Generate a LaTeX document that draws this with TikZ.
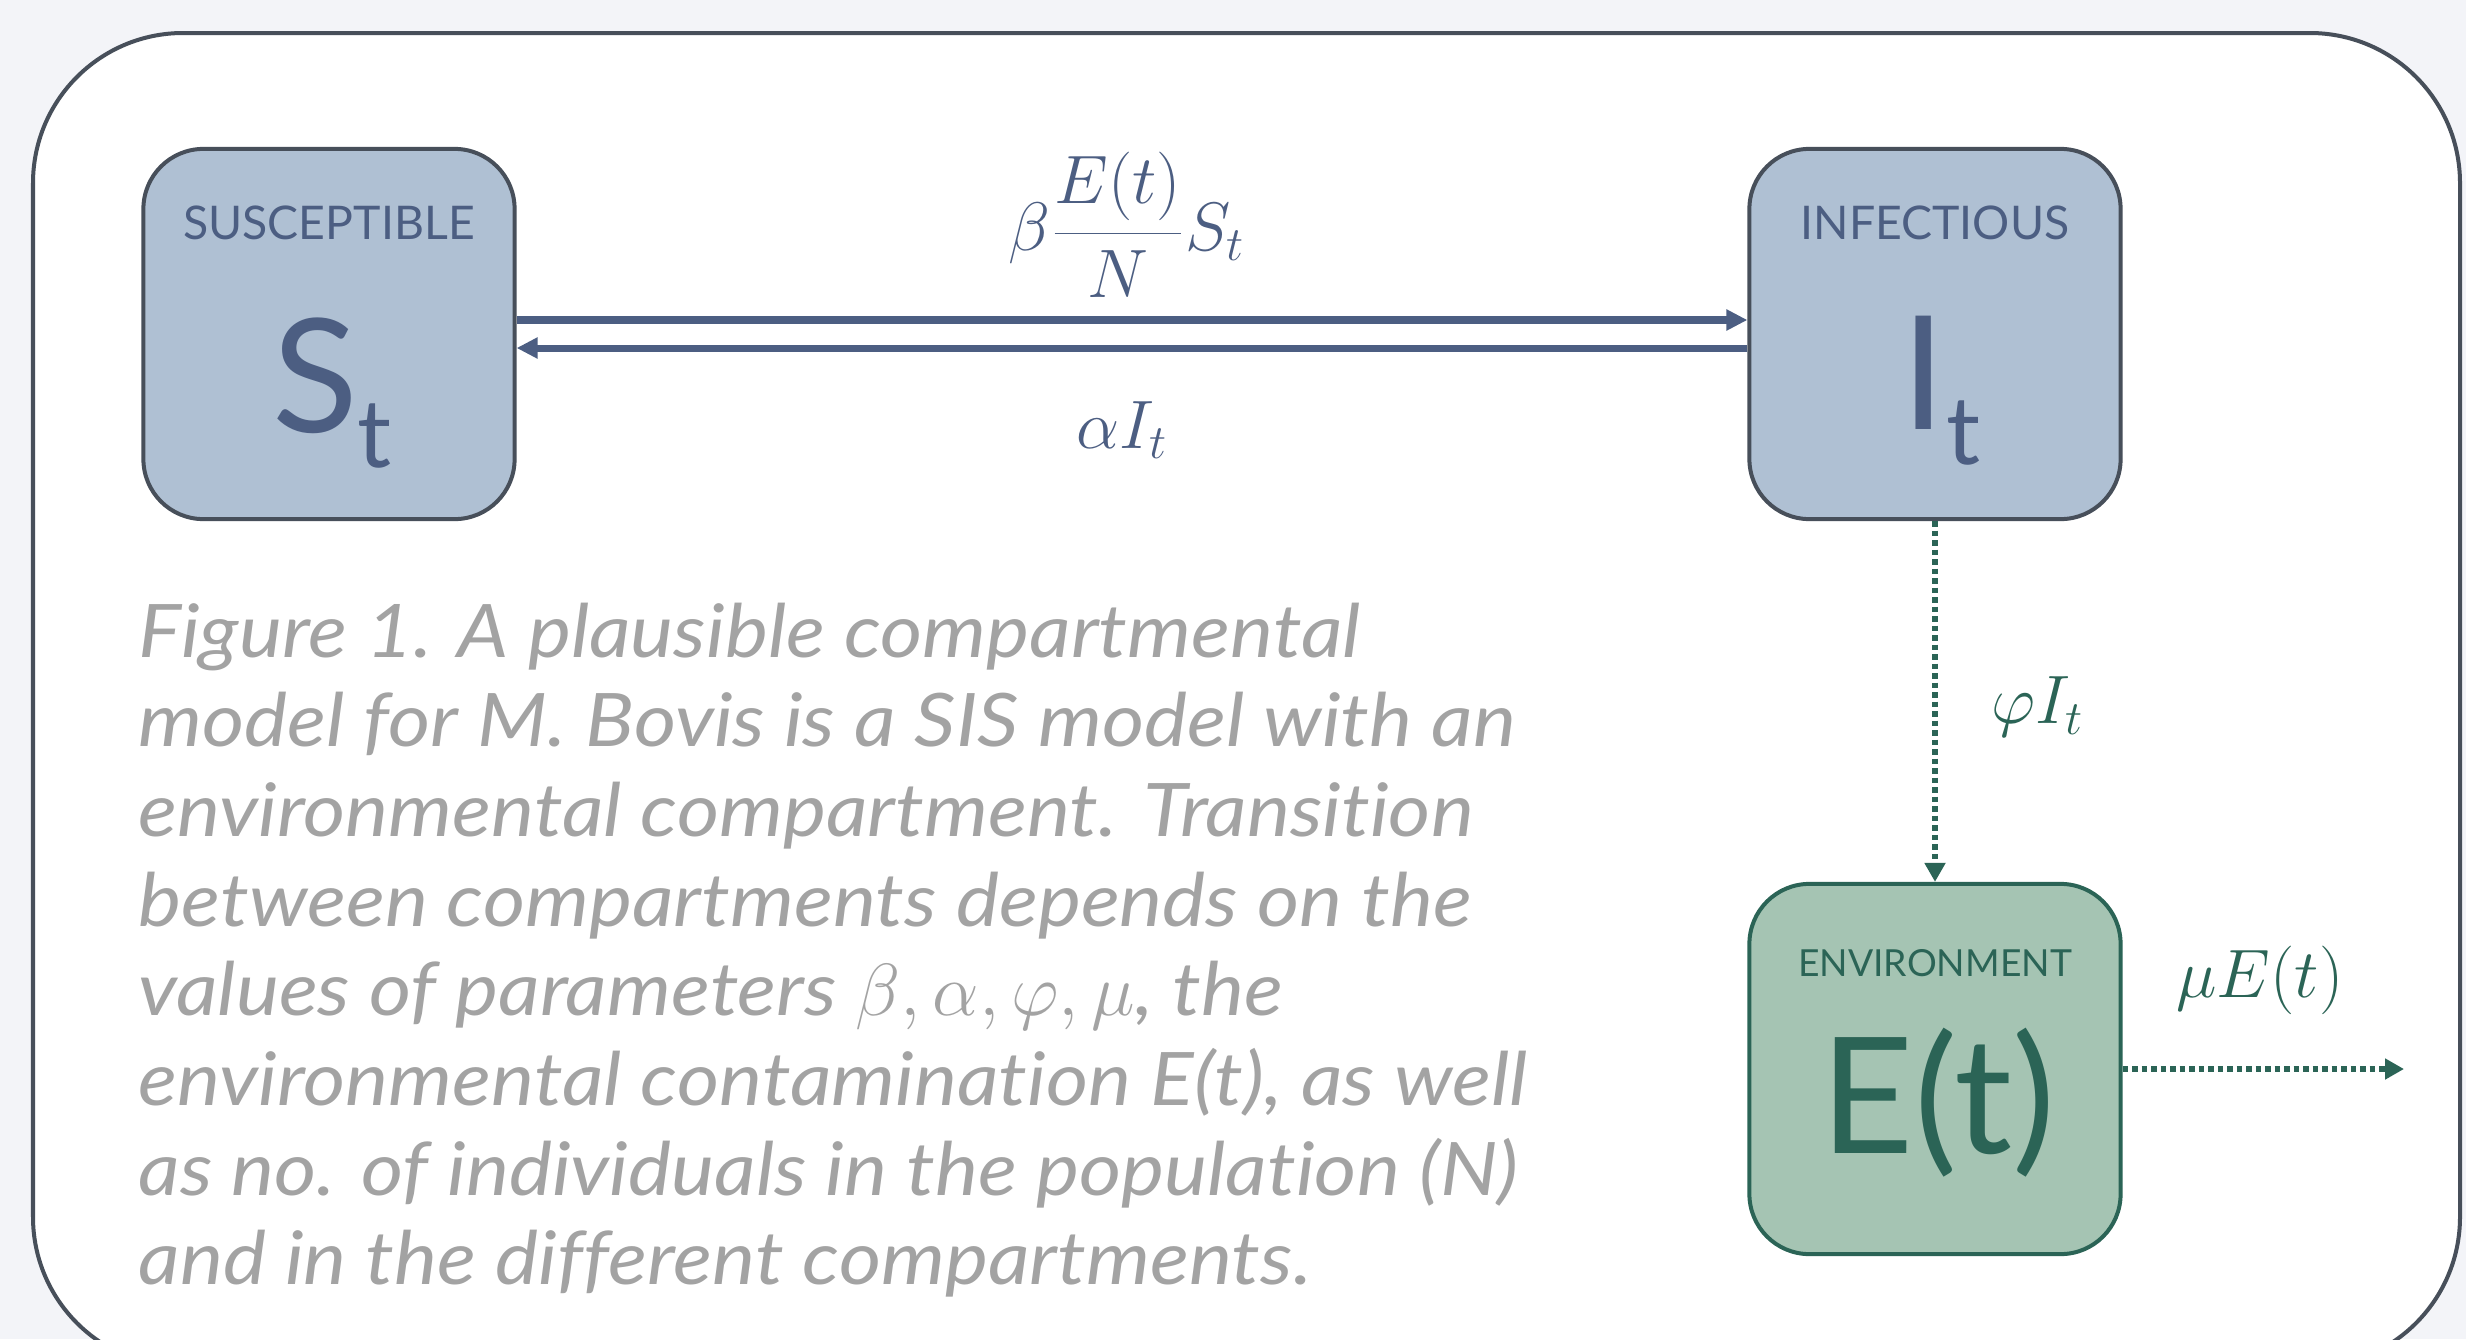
\RequirePackage{fix-cm}
\documentclass[tikz,border=0pt]{standalone}
\usepackage{fontspec}
\setsansfont{Lato}
\newfontfamily\capfont{Lato}[FakeStretch=1.1,Ligatures=NoCommon]
\usetikzlibrary{positioning,arrows.meta}
\definecolor{pagebg}{HTML}{F3F4F8}
\definecolor{framegray}{HTML}{474F5A}
\definecolor{sisfill}{HTML}{AFC0D3}
\definecolor{sisblue}{HTML}{4C5E82}
\definecolor{envfill}{HTML}{A5C4B3}
\definecolor{envgreen}{HTML}{2B6456}
\definecolor{capgray}{HTML}{A3A3A3}

\begin{document}
\begin{tikzpicture}[x=0.01cm,y=-0.01cm,
  comp/.style={draw=framegray,line width=0.04cm,rounded corners=0.6cm,
    minimum width=3.71cm,minimum height=3.70cm,inner sep=0},
  tag/.style={anchor=base,inner sep=0,font=\sffamily\fontsize{13.2}{15}\selectfont},
  big/.style={anchor=base,inner sep=0,font=\sffamily\fontsize{45}{50}\selectfont},
  rate/.style={inner sep=0,font=\fontsize{19.5}{23}\selectfont},
  flow/.style={sisblue,line width=0.07cm,-{Triangle[length=0.21cm,width=0.2cm]}},
  leak/.style={envgreen,line width=0.06cm,dash pattern=on 0.055cm off 0.04cm,
    -{Triangle[length=0.19cm,width=0.2cm]}}]
% page and frame
\fill[pagebg] (0,0) rectangle (2466,1339);
\useasboundingbox (0,0) rectangle (2466,1339);
\draw[framegray,line width=0.04cm,fill=white,rounded corners=1.5cm] (33,33) rectangle (2460,1367);
% compartments
\node[comp,fill=sisfill] (S) at (329,334) {};
\node[comp,fill=sisfill] (I) at (1935,334) {};
\node[comp,fill=envfill,draw=envgreen] (E) at (1935,1069) {};
\node[tag,sisblue] (Stag) at (329,239) {SUSCEPTIBLE};
\node[tag,sisblue] (Itag) at (1935,239) {INFECTIOUS};
\node[tag,envgreen,font=\sffamily\fontsize{10.6}{12}\selectfont] (Etag) at (1935,976) {ENVIRONMENT};
\node[big,sisblue] (Sval) at (332,432) {S\raisebox{-10pt}{\fontsize{27}{27}\selectfont t}};
\node[big,sisblue] (Ival) at (1941,429) {I\raisebox{-10pt}{\fontsize{27}{27}\selectfont t}};
\node[big,envgreen,font=\sffamily\fontsize{46}{50}\selectfont] (Eval) at (1938,1153) {E(t)};
% transitions
\draw[flow] ([yshift=0.14cm]S.east) -- ([yshift=0.14cm]I.west);
\draw[flow] ([yshift=-0.14cm]I.west) -- ([yshift=-0.14cm]S.east);
\draw[leak] (I.south) -- (E.north);
\coordinate (decay) at (2404,1069);
\draw[leak] (E.east) -- (decay);
\node[rate,sisblue] (infect) at (1127,225) {$\displaystyle\beta\frac{E(t)}{N}S_t$};
\node[rate,sisblue] (recover) at (1122,430) {$\alpha I_t$};
\node[rate,envgreen] (shed) at (2038,707) {$\varphi I_t$};
\node[rate,envgreen] (decayrate) at (2260,980) {$\mu E(t)$};
% caption
\node[anchor=north west,inner sep=0,align=left,capgray,
  font=\capfont\itshape\fontsize{21}{25.5}\selectfont] (caption) at (138,602)
  {Figure 1. A plausible compartmental\\
   model for M. Bovis is a SIS model with an\\
   environmental compartment. Transition\\
   between compartments depends on the\\
   values of parameters $\beta,\alpha,\varphi,\mu$, the\\
   environmental contamination E(t), as well\\
   as no. of individuals in the population (N)\\
   and in the different compartments.};
\end{tikzpicture}
\end{document}
